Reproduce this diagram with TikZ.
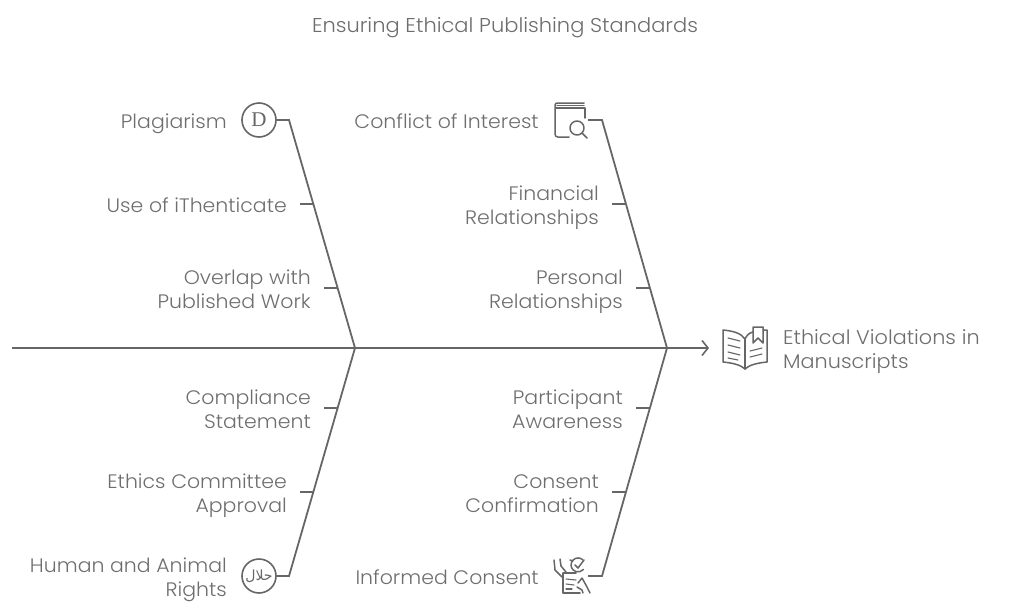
\documentclass[tikz,border=0pt]{standalone}
\usepackage{fontspec}
\setmainfont{Poppins Light}[FakeStretch=1.05]
\newfontfamily\arabicfont[Script=Arabic]{DejaVu Sans}
\newfontfamily\iconfont{Liberation Serif}
\TeXXeTstate=1
\usepackage{tikz}
\usetikzlibrary{arrows.meta,positioning}
\definecolor{bone}{HTML}{666666}
\definecolor{labeltext}{HTML}{6E6E6E}
\tikzset{
    %Define standard arrow tip
    >={Straight Barb[length=6pt,width=15pt,line width=1.6pt]},
    %Define style for labels
    cause/.style={
           font=\fontsize{19.5}{24}\selectfont,
           text=labeltext,
           align=right,
           anchor=east,
           yshift=-3.8pt,
           inner ysep=0pt,
           inner xsep=13pt},
    causetop/.style={
           cause,
           inner xsep=0pt},
    effect/.style={
           font=\fontsize{19.8}{24}\selectfont,
           text=labeltext,
           align=left,
           anchor=west,
           yshift=-2.2pt,
           inner sep=0pt},
    title/.style={
           font=\fontsize{20}{24}\selectfont,
           text=labeltext,
           yshift=-2.2pt,
           inner sep=0pt},
    iconring/.style={
           circle,
           draw=bone,
           line width=1.6pt,
           minimum size=34pt,
           inner sep=0pt,
           text=bone},
    iconbox/.style={
           rectangle,
           inner sep=0pt},
    % Define line styles
    bonel/.style={
           draw=bone,
           line width=1.8pt},
    iconl/.style={
           draw=bone,
           line width=1.5pt,
           line cap=round,
           line join=round},
    thinl/.style={
           draw=bone,
           line width=1.1pt,
           line cap=round,
           line join=round}
}
\begin{document}
\begin{tikzpicture}[x=1pt,y=-1pt]
\useasboundingbox (0,0) rectangle (1009,613);
\node[title] (head) at (505,25) {\strut Ensuring Ethical Publishing Standards};
% spine
\coordinate (tail) at (12,348);
\coordinate (jointl) at (355,348);
\coordinate (jointr) at (667,348);
\coordinate (tip) at (709,348);
% left side
\node[iconring] (plag) at (259,120) {\iconfont\fontsize{21}{21}\selectfont D};
\node[iconring] (halal) at (259,576) {\arabicfont\fontsize{14}{14}\selectfont\beginR حلال\endR};
\coordinate (elbowlt) at (289,120);
\coordinate (elbowlb) at (289,576);
\node[causetop] (plagl) at (227,120) {\strut Plagiarism};
\node[causetop] (humanl) at (227,576) {\strut Human and Animal\\\strut Rights};
\node[cause] (ithent) at (300,204) {\strut Use of iThenticate};
\node[cause] (overlap) at (324,288) {\strut Overlap with\\\strut Published Work};
\node[cause] (comply) at (324,408) {\strut Compliance\\\strut Statement};
\node[cause] (ethics) at (300,492) {\strut Ethics Committee\\\strut Approval};
\coordinate (ribl1) at (313.5,204);
\coordinate (ribl2) at (337.6,288);
\coordinate (ribl3) at (337.6,408);
\coordinate (ribl4) at (313.5,492);
% right side
\coordinate (elbowrt) at (602,120);
\coordinate (elbowrb) at (602,576);
\node[iconbox,minimum width=34pt,minimum height=36pt] (coibox) at (571,120) {};
\node[iconbox,minimum width=34pt,minimum height=36pt] (consbox) at (571,576) {};
\node[causetop] (coil) at (539,120) {\strut Conflict of Interest};
\node[causetop] (consl) at (539,576) {\strut Informed Consent};
\node[cause] (fin) at (612,204) {\strut Financial\\\strut Relationships};
\node[cause] (pers) at (636,288) {\strut Personal\\\strut Relationships};
\node[cause] (part) at (636,408) {\strut Participant\\\strut Awareness};
\node[cause] (conf) at (612,492) {\strut Consent\\\strut Confirmation};
\coordinate (ribr1) at (626,204);
\coordinate (ribr2) at (650,288);
\coordinate (ribr3) at (650,408);
\coordinate (ribr4) at (626,492);
\node[iconbox,minimum width=46pt,minimum height=44pt] (bookicon) at (745,348) {};
\node[effect] (viol) at (783,349) {\strut Ethical Violations in\\\strut Manuscripts};
% connectors
\draw[bonel,->] (tail) -- (tip);
\draw[bonel] (plag) -- (elbowlt) -- (jointl);
\draw[bonel] (halal) -- (elbowlb) -- (jointl);
\draw[bonel] (ithent.east |- ribl1) -- (ribl1);
\draw[bonel] (overlap.east |- ribl2) -- (ribl2);
\draw[bonel] (comply.east |- ribl3) -- (ribl3);
\draw[bonel] (ethics.east |- ribl4) -- (ribl4);
\draw[bonel] (coibox) ++(17,0) -- (elbowrt) -- (jointr);
\draw[bonel] (consbox) ++(17,0) -- (elbowrb) -- (jointr);
\draw[bonel] (fin.east |- ribr1) -- (ribr1);
\draw[bonel] (pers.east |- ribr2) -- (ribr2);
\draw[bonel] (part.east |- ribr3) -- (ribr3);
\draw[bonel] (conf.east |- ribr4) -- (ribr4);
% book and lens
\draw[iconl] (569,137) -- (558,137) .. controls (556,137) and (555,136) .. (555,134) -- (555,105) .. controls (555,104) and (556,103) .. (557,103) -- (584,103);
\draw[iconl] (556,108) -- (585,108) -- (585,118);
\draw[thinl] (557,105.5) -- (584,105.5);
\draw[iconl] (577,128) circle (7);
\draw[iconl] (582,133) -- (587,138);
% open book
\draw[iconl] (745,339) .. controls (741,333) and (733,331) .. (723,330) -- (723,362) .. controls (733,363) and (741,365) .. (745,369) .. controls (749,365) and (757,363) .. (767,362) -- (767,330) -- (763,330);
\draw[iconl] (745,339) -- (745,369);
\draw[iconl] (745,339) .. controls (747,335) and (749,333) .. (753,332);
\draw[iconl] (753,327) -- (763,327) -- (763,343) -- (758,338) -- (753,343) -- cycle;
\draw[thinl] (728,338) -- (740,341);
\draw[thinl] (728,345) -- (740,348);
\draw[thinl] (728,352) -- (740,355);
\draw[thinl] (728,358) -- (738,360);
\draw[thinl] (750,351) -- (762,348);
\draw[thinl] (750,357) -- (762,354);
% consent form and hands
\draw[iconl] (563,573) -- (576,573) (563,573) -- (563,593) -- (580,593);
\draw[thinl] (566,579) -- (576,580);
\draw[thinl] (566,584) -- (574,585);
\draw[thinl] (566,589) -- (572,589);
\draw[iconl] (583,560) arc (-45:-320:7);
\draw[iconl] (575,565) -- (578,568) -- (584,560);
\draw[iconl] (554,560) -- (555,570) -- (562,577);
\draw[iconl] (560,559) -- (561,566) -- (566,572);
\draw[iconl] (570,560) -- (573,561);
\draw[iconl] (578,583) -- (582,578) -- (587,587) -- (590,593);
\draw[iconl] (577,587) -- (582,590) -- (583,593);
\end{tikzpicture}
\end{document}
